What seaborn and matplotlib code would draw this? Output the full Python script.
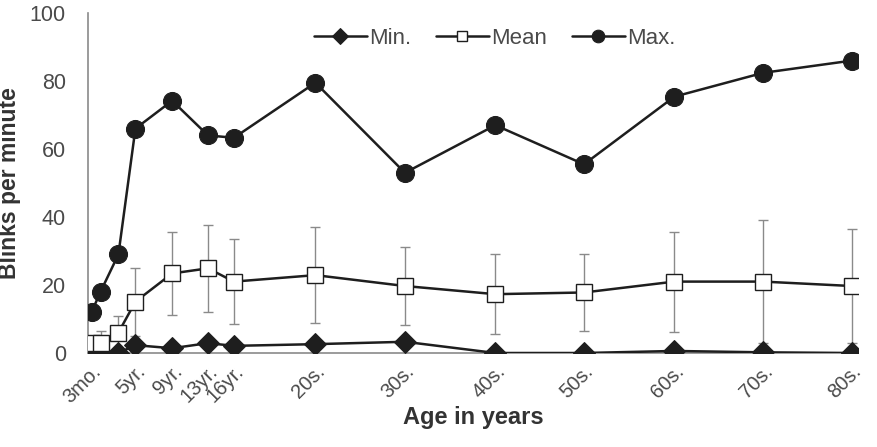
import seaborn as sns
import matplotlib.pyplot as plt
import numpy as np
import pandas as pd

# Valeurs
ages = [0.4, 1.4, 3.4, 5.3, 9.4, 13.4, 16.3, 25.4, 35.4, 45.5, 55.4, 65.5, 75.4, 85.3]
age_labels = ['3mo.', '', '', '5yr.', '9yr.', '13yr.', '16yr.',
              '20s.', '30s.', '40s.', '50s.', '60s.', '70s.', '80s.']
min_vals = [0, 0, 0, 2.3, 1.4, 2.9, 2.1, 2.6, 3.3, 0, 0, 0.6, 0.2, 0]
mean_vals = [3, 3, 6, 15.1, 23.4, 24.9, 21, 22.9, 19.7, 17.3, 17.8, 21, 21, 19.7]
sd_vals = [1, 3.5, 5, 10, 12.3, 12.8, 12.6, 14.2, 11.4, 11.7, 11.3, 14.7, 18.2, 16.8]
max_vals = [12, 18, 29, 66, 74.2, 64, 63.3, 79.5, 53, 67, 55.5, 75.4, 82.4, 86]

df = pd.DataFrame({'age': ages, 'min': min_vals, 'mean': mean_vals,
                   'sd': sd_vals, 'max': max_vals})

sns.set_style('white')
plt.rcParams['font.family'] = ['Liberation Sans', 'DejaVu Sans']

fig = plt.figure(figsize=(8.78, 4.47), dpi=100)
ax = fig.add_axes([0.1002, 0.2103, 0.8770, 0.7606])

dark = '#1e1e1e'
grey = '#8a8a8a'
text_grey = '#4a4a4a'

# Barres d'erreur (écart-type) sous les courbes
ax.errorbar(df['age'], df['mean'], yerr=df['sd'], fmt='none', ecolor=grey,
            elinewidth=1.0, capsize=3.5, capthick=1.0, zorder=1)

sns.lineplot(data=df, x='age', y='min', ax=ax, color=dark, lw=1.8,
             marker='D', markersize=11, markeredgecolor=dark,
             markerfacecolor=dark, label='Min.', zorder=3)
sns.lineplot(data=df, x='age', y='mean', ax=ax, color=dark, lw=1.8,
             marker='s', markersize=11, markeredgecolor=dark,
             markeredgewidth=1.0, markerfacecolor='white', label='Mean', zorder=3)
sns.lineplot(data=df, x='age', y='max', ax=ax, color=dark, lw=1.8,
             marker='o', markersize=13, markeredgecolor=dark,
             markerfacecolor=dark, label='Max.', zorder=3)

ax.set_xlim(0, 86)
ax.set_ylim(0, 100)
ax.set_yticks(range(0, 101, 20))

ax.set_xticks(ages)
ax.set_xticklabels(age_labels, rotation=45, ha='right', va='top',
                   rotation_mode='anchor')
ax.set_xticks(range(10, 90, 10), minor=True)
ax.tick_params(axis='x', which='major', length=0, pad=6,
               labelsize=14.5, labelcolor=text_grey)
ax.tick_params(axis='x', which='minor', length=4, direction='in',
               color=grey, width=1)
ax.tick_params(axis='y', length=5, direction='in', color=grey, width=1,
               labelsize=15.5, labelcolor=text_grey, pad=16)

for side in ['top', 'right']:
    ax.spines[side].set_visible(False)
for side in ['left', 'bottom']:
    ax.spines[side].set_color(grey)
    ax.spines[side].set_linewidth(1.2)

ax.set_xlabel('Age in years', fontsize=17, fontweight='bold', color='#333333',
              labelpad=0)
ax.set_ylabel('Blinks per minute', fontsize=16.5, fontweight='bold',
              color='#333333', labelpad=6)

leg = ax.legend(loc='center', bbox_to_anchor=(0.528, 0.925), ncol=3,
                frameon=False, fontsize=16, handlelength=2.4,
                columnspacing=1.1, handletextpad=0.1, markerscale=0.7)
for t in leg.get_texts():
    t.set_color(text_grey)

fig.savefig('out.png', dpi=100)
